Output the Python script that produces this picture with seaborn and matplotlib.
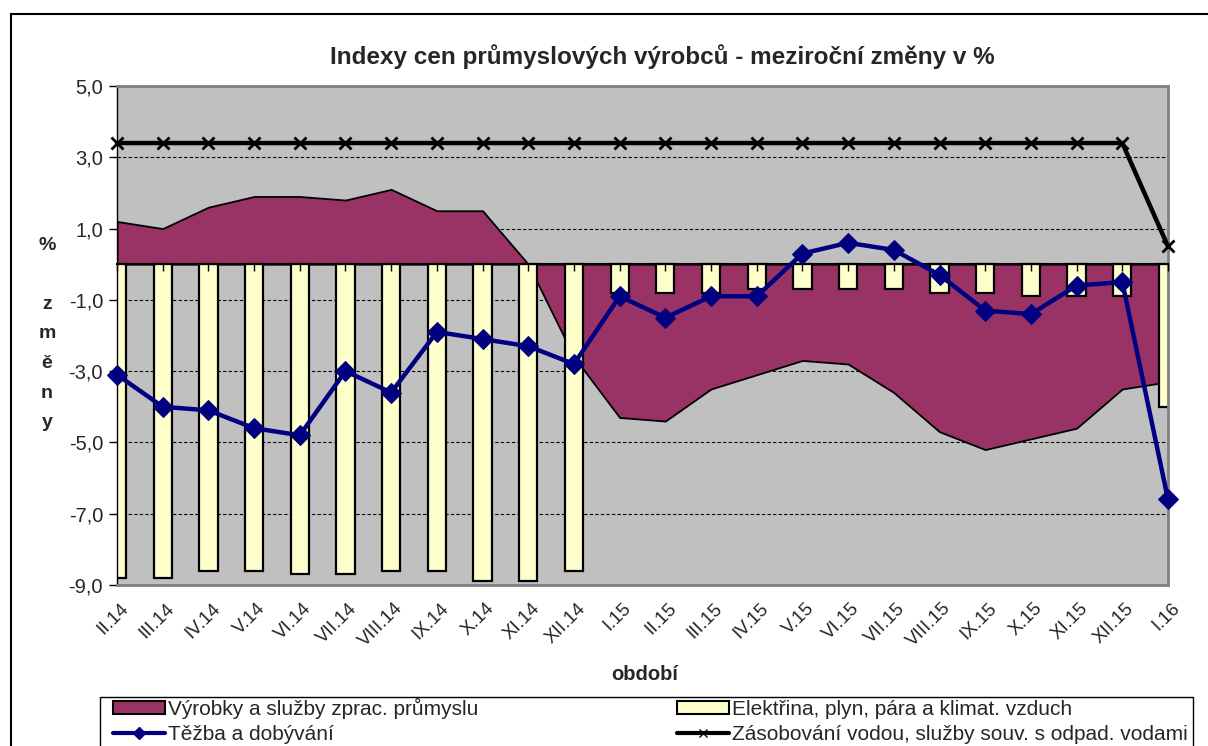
import numpy as np
import pandas as pd
import matplotlib
matplotlib.use("Agg")
import matplotlib.pyplot as plt
import matplotlib.transforms as mtransforms
from matplotlib.patches import Rectangle, Patch
from matplotlib.lines import Line2D
import seaborn as sns

# data
obdobi = ['II.14', 'III.14', 'IV.14', 'V.14', 'VI.14', 'VII.14', 'VIII.14', 'IX.14',
          'X.14', 'XI.14', 'XII.14', 'I.15', 'II.15', 'III.15', 'IV.15', 'V.15',
          'VI.15', 'VII.15', 'VIII.15', 'IX.15', 'X.15', 'XI.15', 'XII.15', 'I.16']
vyrobky = [1.2, 1.0, 1.6, 1.9, 1.9, 1.8, 2.1, 1.5, 1.5, 0.0, -2.6, -4.3,
           -4.4, -3.5, -3.1, -2.7, -2.8, -3.6, -4.7, -5.2, -4.9, -4.6, -3.5, -3.3]
elektrina = [-8.8, -8.8, -8.6, -8.6, -8.7, -8.7, -8.6, -8.6, -8.9, -8.9, -8.6, -0.8,
             -0.8, -0.8, -0.7, -0.7, -0.7, -0.7, -0.8, -0.8, -0.9, -0.9, -0.9, -4.0]
tezba = [-3.1, -4.0, -4.1, -4.6, -4.8, -3.0, -3.6, -1.9, -2.1, -2.3, -2.8, -0.9,
         -1.5, -0.9, -0.9, 0.3, 0.6, 0.4, -0.3, -1.3, -1.4, -0.6, -0.5, -6.6]
voda = [3.4, 3.4, 3.4, 3.4, 3.4, 3.4, 3.4, 3.4, 3.4, 3.4, 3.4, 3.4,
        3.4, 3.4, 3.4, 3.4, 3.4, 3.4, 3.4, 3.4, 3.4, 3.4, 3.4, 0.5]
y_ticks = [5.0, 3.0, 1.0, -1.0, -3.0, -5.0, -7.0, -9.0]

labels = {
    'vyrobky': 'Výrobky a služby zprac. průmyslu',
    'elektrina': 'Elektřina, plyn, pára a klimat. vzduch',
    'tezba': 'Těžba a dobývání',
    'voda': 'Zásobování vodou, služby souv. s odpad. vodami',
}

df = pd.DataFrame({'pos': np.arange(len(obdobi)), 'obdobi': obdobi,
                   'vyrobky': vyrobky, 'elektrina': elektrina,
                   'tezba': tezba, 'voda': voda})

sns.set_style('white')
plt.rcParams['font.family'] = ['Liberation Sans', 'DejaVu Sans']

W, H = 1208, 746
fig = plt.figure(figsize=(W / 100, H / 100), dpi=100)
ax = fig.add_axes([117 / W, 1 - 585 / H, (1168 - 117) / W, (585 - 86) / H])
ax.set_facecolor('#C0C0C0')

purple = '#993366'
cream = '#FFFFCC'
navy = '#000080'

# area series
ax.fill_between(df['pos'], 0, df['vyrobky'], facecolor=purple, edgecolor='black',
                linewidth=1.3, zorder=1)

# bar series
sns.barplot(data=df, x='pos', y='elektrina', native_scale=True, width=0.4,
            color=cream, saturation=1, edgecolor='black', linewidth=1.6,
            errorbar=None, zorder=2, ax=ax)

# line series
sns.lineplot(data=df, x='pos', y='tezba', color=navy, linewidth=3.2, marker='D',
             markersize=10, markeredgecolor=navy, zorder=14, clip_on=False, ax=ax)
sns.lineplot(data=df, x='pos', y='voda', color='black', linewidth=3.2, marker='x',
             markersize=9, markeredgewidth=2, markeredgecolor='black', zorder=15,
             clip_on=False, ax=ax)

ax.set_xlim(0, len(obdobi) - 1)
ax.set_ylim(-9, 5)
ax.set_xlabel('')
ax.set_ylabel('')

ax.set_yticks(y_ticks, labels=[f'{v:.1f}'.replace('.', ',') for v in y_ticks], fontsize=14.5)
ax.yaxis.grid(True, color='black', linestyle=(0, (3, 2)), linewidth=0.8)
ax.set_axisbelow(True)
ax.tick_params(axis='y', direction='out', length=6, width=1, color='black', pad=4, left=True)

ax.set_xticks(df['pos'], labels=obdobi, fontsize=13.5, rotation=45, ha='right',
              va='center', rotation_mode='anchor')
ax.tick_params(axis='x', length=0, pad=15)
offset = mtransforms.ScaledTranslation(9 / 100, 0, fig.dpi_scale_trans)
for lab in ax.get_xticklabels():
    lab.set_transform(lab.get_transform() + offset)

for side in ['top', 'right', 'bottom']:
    ax.spines[side].set_color('#808080')
    ax.spines[side].set_linewidth(2)
ax.spines['left'].set_color('black')
ax.spines['left'].set_linewidth(1)

# category axis crossing at zero with small tick marks
sec = ax.secondary_xaxis(0, transform=ax.transData)
sec.set_xticks(df['pos'])
sec.tick_params(axis='x', length=5, width=1, color='black', labelbottom=False, labeltop=False)
sec.spines['bottom'].set_color('black')
sec.spines['bottom'].set_linewidth(1.5)
sec.spines['top'].set_visible(False)
sec.set_zorder(10)

# titles and axis labels
fig.text(662 / W, 1 - 57 / H, 'Indexy cen průmyslových výrobců - meziroční změny v %',
         ha='center', va='center', fontsize=17.5, fontweight='bold')
fig.text(645 / W, 1 - 674 / H, 'období', ha='center', va='center',
         fontsize=14.5, fontweight='bold')
for i, ch in enumerate(['%', '', 'z', 'm', 'ě', 'n', 'y']):
    fig.text(47 / W, 1 - (245 + i * 29.6) / H, ch, ha='center', va='center',
             fontsize=14, fontweight='bold')

# legend
handles = [
    Patch(facecolor=purple, edgecolor='black', linewidth=1.5),
    Line2D([], [], color=navy, linewidth=3, marker='D', markersize=6),
    Patch(facecolor=cream, edgecolor='black', linewidth=1.5),
    Line2D([], [], color='black', linewidth=3, marker='x', markersize=6, markeredgewidth=1),
]
leg_labels = [labels['vyrobky'], labels['tezba'], labels['elektrina'], labels['voda']]
leg = fig.legend(handles, leg_labels, loc='upper left', ncol=2, mode='expand',
                 bbox_to_anchor=(113 / W, 0, (1188 - 113) / W, 1 - 698 / H),
                 fontsize=15, frameon=False, borderaxespad=0, borderpad=0,
                 handlelength=2.5, handletextpad=0.15, labelspacing=0.3,
                 handleheight=0.6)
fig.add_artist(Rectangle((100 / W, -0.1), (1193 - 100) / W, 1 - 697 / H + 0.1,
                         transform=fig.transFigure, fill=False, edgecolor='black',
                         linewidth=1))

# outer chart border
fig.add_artist(Rectangle((11 / W, -0.1), 1.2, 1 - 14 / H + 0.1, transform=fig.transFigure,
                         fill=False, edgecolor='black', linewidth=1.5))

fig.savefig('out.png', dpi=100)
